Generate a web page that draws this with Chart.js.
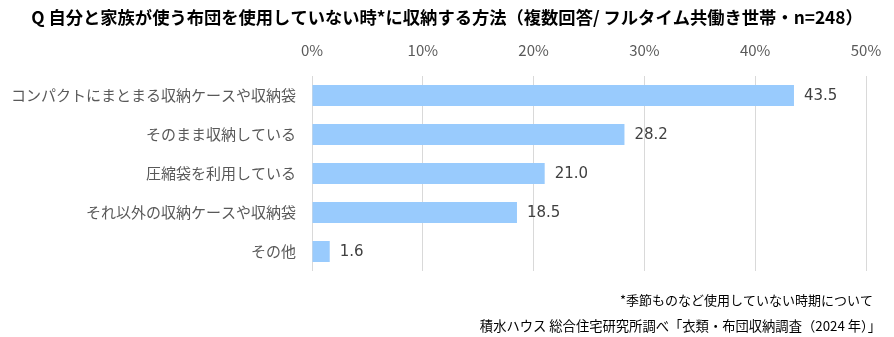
<!DOCTYPE html>
<html>
<head>
<meta charset="utf-8">
<script src="https://cdn.jsdelivr.net/npm/chart.js@4"></script>
<style>
  html, body { margin: 0; padding: 0; background: #fff; }
  #wrap { width: 894px; height: 337px; position: relative; }
</style>
</head>
<body>
<div id="wrap"><canvas id="storageChart"></canvas></div>
<script>
// ===== DATA =====
const titleText = "Q 自分と家族が使う布団を使用していない時*に収納する方法（複数回答/ フルタイム共働き世帯・n=248）";
const categories = [
  "コンパクトにまとまる収納ケースや収納袋",
  "そのまま収納している",
  "圧縮袋を利用している",
  "それ以外の収納ケースや収納袋",
  "その他"
];
const values = [43.5, 28.2, 21.0, 18.5, 1.6];
const xTicks = [0, 10, 20, 30, 40, 50];
const footnotes = [
  "*季節ものなど使用していない時期について",
  "積水ハウス 総合住宅研究所調べ「衣類・布団収納調査（2024 年）」"
];

const FONT = '"Noto Sans CJK JP", "Noto Sans", sans-serif';

// ===== VALUE LABELS + TITLE + FOOTNOTES =====
const textPlugin = {
  id: "textPlugin",
  afterDatasetsDraw(chart) {
    const { ctx } = chart;
    const meta = chart.getDatasetMeta(0);
    ctx.save();
    ctx.font = '15px "DejaVu Sans", sans-serif';
    ctx.fillStyle = "#404040";
    ctx.textAlign = "left";
    ctx.textBaseline = "middle";
    meta.data.forEach((bar, i) => {
      ctx.fillText(values[i].toFixed(1), bar.x + 10, bar.y + 1);
    });
    ctx.restore();
  },
  afterDraw(chart) {
    const { ctx, width } = chart;
    ctx.save();
    // title
    ctx.font = "bold 17.3px " + FONT;
    ctx.fillStyle = "#000";
    ctx.textAlign = "center";
    ctx.textBaseline = "middle";
    ctx.fillText(titleText, width / 2, 17);
    // footnotes
    ctx.font = "13px " + FONT;
    ctx.fillStyle = "#000";
    ctx.textAlign = "right";
    ctx.fillText(footnotes[0], 873, 300);
    ctx.font = "13.3px " + FONT;
    ctx.fillText(footnotes[1], 881, 326);
    ctx.restore();
  }
};

new Chart(document.getElementById("storageChart"), {
  type: "bar",
  data: {
    labels: categories,
    datasets: [{
      data: values,
      backgroundColor: "#99cbfd",
      borderWidth: 0,
      barPercentage: 0.54,
      categoryPercentage: 1
    }]
  },
  options: {
    indexAxis: "y",
    responsive: true,
    maintainAspectRatio: false,
    animation: false,
    layout: { padding: { top: 30, right: 28, bottom: 66, left: 0 } },
    plugins: {
      legend: { display: false },
      tooltip: { enabled: false }
    },
    scales: {
      x: {
        position: "top",
        min: 0,
        max: 50,
        afterBuildTicks: scale => { scale.ticks = xTicks.map(v => ({ value: v })); },
        afterFit: scale => {
          scale.height = 46;
          scale.paddingLeft = 0;
          scale.paddingRight = 0;
        },
        grid: { color: "#d9d9d9", lineWidth: 1, drawTicks: false },
        border: { display: false },
        ticks: {
          color: "#595959",
          font: { size: 15, family: FONT },
          padding: 17,
          callback: v => v + "%"
        }
      },
      y: {
        afterFit: scale => { scale.width = 312; },
        grid: { display: false, drawTicks: false },
        border: { display: false },
        ticks: {
          color: "#595959",
          font: { size: 15, family: FONT },
          padding: 16
        }
      }
    }
  },
  plugins: [textPlugin]
});
</script>
</body>
</html>
